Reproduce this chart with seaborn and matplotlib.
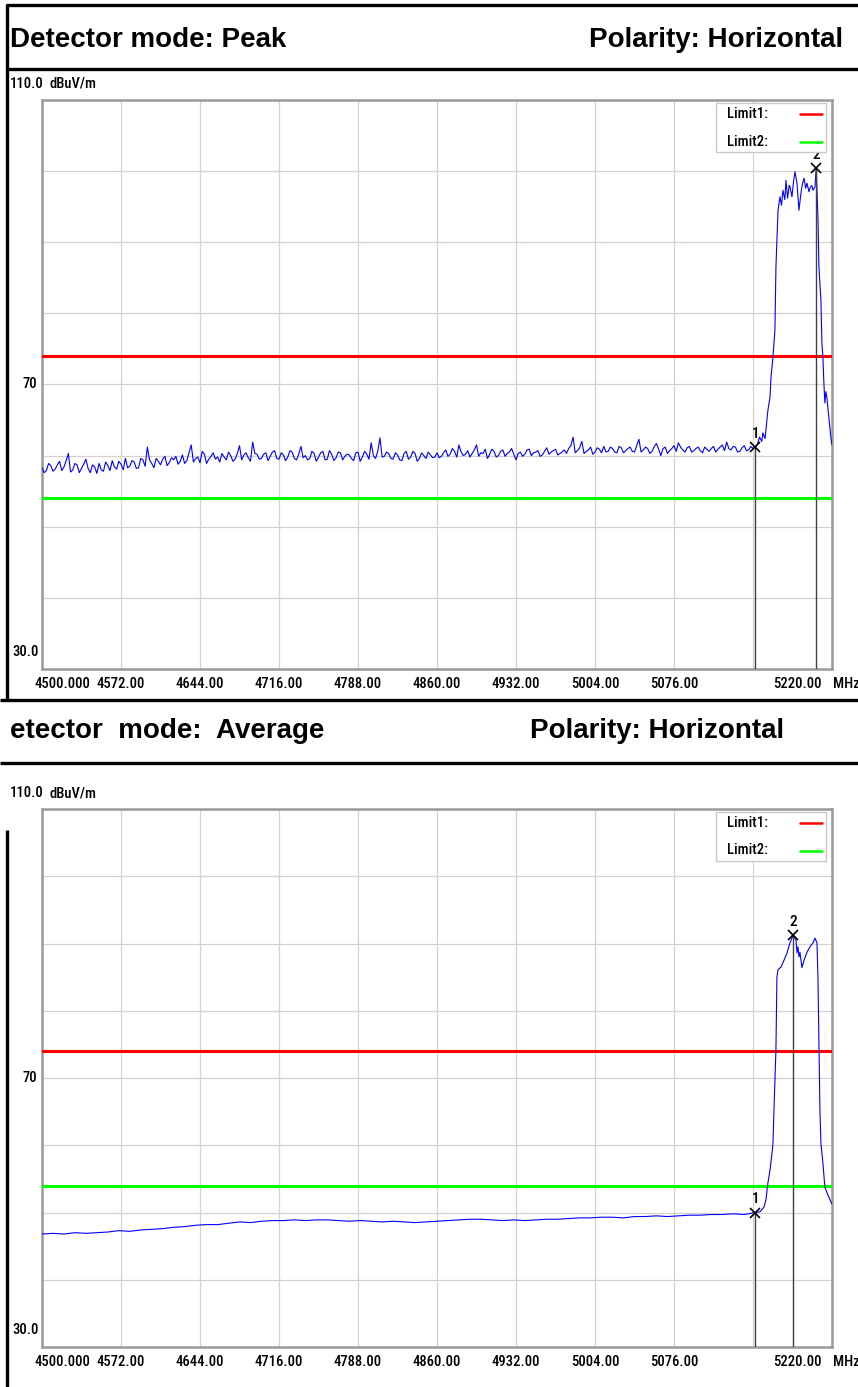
import numpy as np
import pandas as pd
import matplotlib
matplotlib.use('Agg')
import matplotlib.pyplot as plt
import seaborn as sns
from matplotlib.lines import Line2D
from matplotlib.patches import Rectangle
from matplotlib.transforms import ScaledTranslation
from matplotlib import font_manager

W, H = 858, 1387

# ---- data ----
# Peak: noise floor, 4 MHz steps 4500..5148
peak_floor_freq = np.arange(4500, 5149, 4)
peak_floor_level = [
    58.3, 57.9, 58.6, 58.1, 59.2, 58.4, 60.3, 58.0, 58.7, 58.2,
    59.5, 57.6, 58.4, 58.9, 57.8, 58.6, 59.3, 58.1, 58.8, 59.6,
    58.5, 59.1, 58.3, 59.4, 61.2, 58.9, 59.6, 58.7, 59.9, 59.0,
    59.4, 58.8, 60.1, 59.3, 61.5, 59.6, 59.0, 60.2, 59.5, 60.4,
    59.8, 60.3, 59.4, 60.0, 59.5, 61.4, 60.1, 59.7, 61.9, 60.2,
    59.6, 60.4, 59.9, 60.7, 59.5, 60.1, 59.8, 60.5, 59.4, 61.3,
    60.0, 59.6, 60.3, 59.8, 60.6, 59.5, 60.2, 59.7, 60.4, 59.9,
    60.1, 59.3, 60.5, 59.8, 60.2, 61.8, 59.6, 62.5, 59.9, 60.3,
    59.5, 60.1, 59.3, 60.6, 59.8, 60.3, 59.6, 60.0, 60.5, 59.7,
    60.4, 59.9, 60.8, 60.2, 60.6, 61.5, 60.0, 60.7, 60.3, 61.5,
    60.4, 60.9, 60.2, 60.6, 60.0, 60.8, 60.3, 61.0, 59.4, 60.5,
    60.2, 60.9, 60.4, 60.7, 60.1, 61.1, 60.5, 60.9, 60.3, 60.8,
    61.0, 62.6, 60.7, 62.0, 60.6, 61.2, 60.5, 60.9, 61.3, 60.6,
    61.0, 60.4, 61.1, 60.7, 61.2, 60.5, 62.3, 60.8, 61.0, 60.6,
    61.7, 60.0, 61.2, 60.7, 61.4, 61.8, 60.8, 61.1, 60.5, 61.0,
    60.7, 61.2, 60.6, 61.3, 60.9, 61.5, 61.9, 60.8, 61.2, 60.6,
    61.4, 60.8, 61.0,
]
# Peak: noise floor samples in between, 4502..5146
peak_mid_freq = np.arange(4502, 5147, 4)
peak_mid_level = [
    57.6, 58.9, 57.8, 58.7, 57.9, 59.3, 57.7, 58.9, 57.6, 58.8,
    58.2, 58.7, 57.5, 58.0, 59.1, 57.9, 58.4, 59.2, 58.0, 58.3,
    59.3, 58.2, 59.6, 58.5, 59.4, 58.3, 59.2, 59.5, 58.6, 59.7,
    59.9, 59.2, 58.9, 60.4, 59.1, 59.8, 60.6, 58.9, 59.9, 59.5,
    59.1, 59.8, 60.5, 59.2, 60.3, 59.4, 60.4, 59.2, 60.3, 59.5,
    60.2, 59.3, 60.5, 59.6, 60.4, 59.3, 60.7, 59.6, 60.2, 59.7,
    59.4, 60.6, 59.2, 60.4, 59.4, 60.7, 59.3, 60.5, 59.4, 60.2,
    59.6, 60.4, 59.2, 60.6, 59.5, 60.0, 60.6, 59.8, 60.5, 59.6,
    60.4, 59.4, 60.3, 59.5, 60.6, 59.2, 60.4, 59.6, 60.1, 59.8,
    59.7, 60.4, 59.9, 61.0, 59.8, 60.5, 60.2, 59.8, 60.8, 59.9,
    60.3, 59.6, 60.9, 59.8, 60.6, 59.9, 60.5, 60.2, 60.3, 59.9,
    60.8, 60.0, 60.5, 59.9, 60.6, 60.2, 60.7, 60.1, 60.5, 60.3,
    61.4, 60.4, 61.1, 60.3, 60.8, 60.2, 61.1, 60.4, 60.5, 61.2,
    60.5, 61.3, 60.4, 61.0, 60.6, 61.4, 60.5, 61.2, 60.3, 61.3,
    60.9, 61.0, 60.3, 61.0, 60.6, 61.2, 60.5, 61.3, 60.7, 61.2,
    60.4, 60.9, 61.0, 60.5, 61.2, 60.7, 61.0, 61.3, 60.5, 61.1,
    60.7, 61.3,
]
# Peak: in-band part
peak_band_freq = [
    5150.0, 5152.0, 5154.0, 5156.0, 5157.0, 5159.0, 5160.0, 5161.6, 5163.5,
    5164.4, 5166.2, 5168.0, 5168.9, 5170.8, 5172.6, 5174.0, 5175.3, 5177.0,
    5178.1, 5179.5, 5181.0, 5181.7, 5183.5, 5185.0, 5186.3, 5188.1, 5189.9,
    5191.7, 5193.0, 5194.5, 5196.0, 5197.2, 5199.0, 5199.9, 5201.5, 5202.7,
    5204.5, 5205.6, 5207.2, 5208.1, 5209.9, 5210.8, 5211.7, 5212.6, 5213.5,
    5214.4, 5215.3, 5217.1, 5219.0, 5220.0,
]
peak_band_level = [
    61.2, 61.6, 62.6, 62.0, 63.2, 62.4, 64.0, 66.4, 68.2,
    71.0, 73.9, 77.7, 86.5, 94.5, 96.4, 95.2, 97.3, 96.0,
    98.7, 96.2, 98.0, 97.8, 96.4, 98.6, 99.9, 98.3, 94.5,
    96.9, 98.2, 99.0, 97.6, 98.3, 97.1, 97.6, 98.0, 97.3,
    97.8, 100.4, 93.5, 86.5, 81.9, 75.8, 73.9, 70.2, 67.4,
    69.0, 68.2, 65.4, 62.5, 61.5,
]
peak_mk_freq = [5150.0, 5205.6]
peak_mk_level = [61.2, 100.4]

# Average: noise floor, 10 MHz steps 4500..5140
avg_floor_freq = np.arange(4500, 5141, 10)
avg_floor_level = [
    46.8, 46.9, 46.8, 47.0, 46.9, 47.0, 47.1, 47.3, 47.2, 47.4,
    47.5, 47.6, 47.8, 47.9, 48.1, 48.2, 48.2, 48.4, 48.6, 48.5,
    48.7, 48.8, 48.8, 48.9, 48.8, 48.9, 48.9, 48.8, 48.7, 48.8,
    48.7, 48.6, 48.7, 48.6, 48.5, 48.6, 48.7, 48.8, 48.9, 49.0,
    49.0, 48.9, 48.8, 48.9, 48.8, 48.9, 49.0, 49.0, 49.1, 49.2,
    49.2, 49.3, 49.3, 49.2, 49.4, 49.4, 49.5, 49.4, 49.5, 49.6,
    49.6, 49.7, 49.7, 49.8, 49.7,
]
avg_band_freq = [
    5150.0, 5154.3, 5158.0, 5159.8, 5161.6, 5163.5, 5165.3, 5166.2, 5167.1,
    5168.9, 5169.8, 5170.8, 5173.5, 5176.2, 5179.0, 5181.7, 5184.5, 5185.4,
    5187.2, 5188.1, 5189.0, 5189.9, 5190.8, 5192.6, 5194.5, 5197.2, 5199.9,
    5202.7, 5204.5, 5206.3, 5207.2, 5208.1, 5209.0, 5209.9, 5211.7, 5213.5,
    5215.3, 5217.1, 5219.0, 5220.0,
]
avg_band_level = [
    50.0, 50.1, 50.8, 51.9, 54.4, 56.3, 58.8, 60.3, 65.2,
    74.2, 85.0, 86.1, 86.5, 87.5, 88.6, 90.1, 91.2, 91.0,
    90.5, 88.6, 89.5, 88.0, 88.7, 86.4, 87.5, 88.7, 89.5,
    90.1, 90.8, 90.1, 85.0, 75.2, 65.2, 60.3, 57.4, 53.8,
    53.0, 52.3, 51.6, 51.3,
]
avg_mk_freq = [5150.0, 5184.5]
avg_mk_level = [50.0, 91.2]

limit_levels = [74, 54]
limit_names = ['Limit1:', 'Limit2:']
limit_colors = ['#ff0000', '#00ff00']

xtick_vals = [4500, 4572, 4644, 4716, 4788, 4860, 4932, 5004, 5076, 5148, 5220]
xtick_text = ['4500.000', '4572.00', '4644.00', '4716.00', '4788.00', '4860.00',
              '4932.00', '5004.00', '5076.00', '', '5220.00']
ytick_vals = [30, 40, 50, 60, 70, 80, 90, 100, 110]

# ---- style ----
sns.set_style('white')
names = {f.name for f in font_manager.fontManager.ttflist}
narrow = [n for n in ['Liberation Sans Narrow', 'Roboto Condensed', 'DejaVu Sans Condensed',
                      'Noto Sans Condensed', 'Open Sans Condensed'] if n in names]
if narrow:
    small_font, fs = narrow[0], 10.5
else:
    small_font, fs = 'Liberation Sans', 9
big_font = 'Liberation Sans'
plt.rcParams['font.family'] = [small_font, 'DejaVu Sans']
plt.rcParams['text.color'] = 'black'
plt.rcParams['xtick.color'] = 'black'
plt.rcParams['xtick.labelcolor'] = 'black'
sw = 'medium'

fig = plt.figure(figsize=(W / 100, H / 100), dpi=100)
fig.patch.set_facecolor('white')


def fy(y):
    return 1 - y / H


def hline(y, x0, x1):
    fig.add_artist(Line2D([x0 / W, x1 / W], [fy(y), fy(y)], transform=fig.transFigure,
                          color='black', lw=2.4, solid_capstyle='butt'))


def vline(x, y0, y1):
    fig.add_artist(Line2D([x / W, x / W], [fy(y0), fy(y1)], transform=fig.transFigure,
                          color='black', lw=2.4, solid_capstyle='butt'))


def panel(top, bottom, df, mk_freq, mk_level):
    ax = fig.add_axes([42 / W, fy(bottom), 790 / W, (bottom - top) / H])
    sns.lineplot(data=df, x='freq', y='level', ax=ax, color='#0000ff', lw=0.8,
                 estimator=None, sort=True, zorder=4)
    ax.set_xlim(4500, 5220)
    ax.set_ylim(30, 110)
    ax.set_xlabel('')
    ax.set_ylabel('')
    ax.set_xticks(xtick_vals, xtick_text)
    ax.set_yticks(ytick_vals)
    ax.set_yticklabels([])
    ax.grid(True, color='#d6d2cb', lw=0.9)
    ax.set_axisbelow(True)
    ax.tick_params(length=0, pad=6, labelsize=fs)
    for s in ax.spines.values():
        s.set_color('#9a9a9a')
        s.set_linewidth(1.8)

    # first / last frequency labels sit inside the frame ends
    labels = ax.get_xticklabels()
    for lb in labels:
        lb.set_fontweight(sw)
    labels[0].set_transform(labels[0].get_transform() + ScaledTranslation(0.20, 0, fig.dpi_scale_trans))
    labels[-1].set_transform(labels[-1].get_transform() + ScaledTranslation(-0.35, 0, fig.dpi_scale_trans))
    ax.text(1.0, 0, 'MHz', transform=ax.transAxes + ScaledTranslation(0.015, -0.15, fig.dpi_scale_trans),
            ha='left', va='center', fontsize=fs, fontweight=sw)

    # limit lines
    for lv, c in zip(limit_levels, limit_colors):
        ax.axhline(lv, color=c, lw=2.2, zorder=3)

    # markers
    for i, (mf, ml) in enumerate(zip(mk_freq, mk_level)):
        ax.plot([mf, mf], [30, ml], color='#404040', lw=1.0, zorder=5)
        ax.plot(mf, ml, marker='x', ms=7, mew=1.2, color='black', zorder=6)
        ax.annotate(str(i + 1), (mf, ml), xytext=(0, 9.5), textcoords='offset points',
                    ha='center', va='center', fontsize=fs + 0.5, fontweight=sw, zorder=6)

    # y labels
    yt = ax.get_yaxis_transform()
    ax.text(-0.006, 70, '70', transform=yt, ha='right', va='center', fontsize=fs, fontweight=sw)
    ax.text(-0.038, 30, '30.0', transform=yt + ScaledTranslation(0, 0.10, fig.dpi_scale_trans),
            ha='left', va='bottom', fontsize=fs, fontweight=sw)
    ax.text(-0.041, 1.0, '110.0', transform=ax.transAxes + ScaledTranslation(0, 0.16, fig.dpi_scale_trans),
            ha='left', va='center', fontsize=fs, fontweight=sw)
    ax.text(0.010, 1.0, 'dBuV/m', transform=ax.transAxes + ScaledTranslation(0, 0.16, fig.dpi_scale_trans),
            ha='left', va='center', fontsize=fs, fontweight=sw)

    # legend box
    ph = bottom - top
    ax.add_patch(Rectangle(((716 - 42) / 790, 1 - 52 / ph), 110 / 790, 49 / ph, transform=ax.transAxes,
                           facecolor='white', edgecolor='#c8c8c8', lw=1.0, zorder=7, clip_on=False))
    for k, (nm, c) in enumerate(zip(limit_names, limit_colors)):
        yy = 1 - (14 + 27.5 * k) / ph
        ax.text((727 - 42) / 790, yy, nm, transform=ax.transAxes, ha='left', va='center',
                fontsize=fs, fontweight=sw, zorder=8)
        ax.plot([(800 - 42) / 790, (822 - 42) / 790], [yy, yy], transform=ax.transAxes,
                color=c, lw=1.8, zorder=8)
    return ax


# ---- panel 1: peak ----
hline(5, 6, W)
hline(69, 6, W)
vline(7, 4, 700)
fig.text(10 / W, fy(40), 'Detector mode: Peak', family=big_font, weight='bold', fontsize=20,
         ha='left', va='center')
fig.text(843 / W, fy(40), 'Polarity: Horizontal', family=big_font, weight='bold', fontsize=20,
         ha='right', va='center')
peak_df = pd.DataFrame({
    'freq': np.concatenate([peak_floor_freq, peak_mid_freq, peak_band_freq]),
    'level': np.concatenate([peak_floor_level, peak_mid_level, peak_band_level]),
})
panel(100, 669, peak_df, peak_mk_freq, peak_mk_level)

# ---- panel 2: average ----
hline(700, 0, W)
hline(763, 0, W)
vline(7, 830, H)
fig.text(10 / W, fy(731), 'etector  mode:  Average', family=big_font, weight='bold', fontsize=20,
         ha='left', va='center')
fig.text(530 / W, fy(731), 'Polarity: Horizontal', family=big_font, weight='bold', fontsize=20,
         ha='left', va='center')
avg_df = pd.DataFrame({
    'freq': np.concatenate([avg_floor_freq, avg_band_freq]),
    'level': np.concatenate([avg_floor_level, avg_band_level]),
})
panel(809, 1347, avg_df, avg_mk_freq, avg_mk_level)

fig.savefig('out.png', dpi=100, facecolor='white')
